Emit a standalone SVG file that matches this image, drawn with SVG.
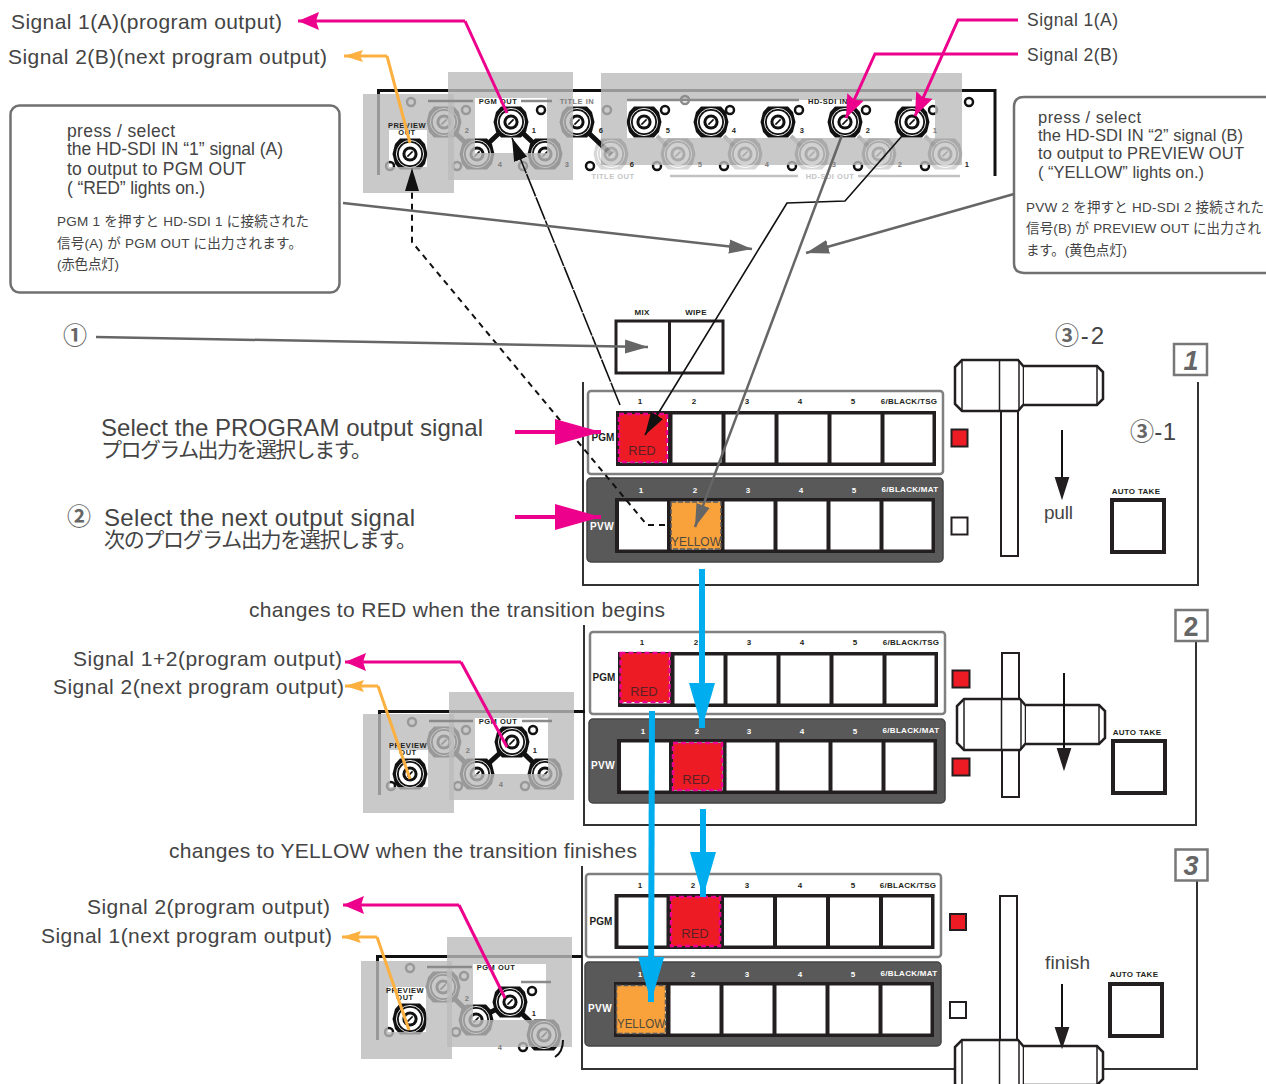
<svg xmlns="http://www.w3.org/2000/svg" width="1266" height="1084" viewBox="0 0 1266 1084">
<style>
text{font-family:"Liberation Sans","Noto Sans CJK JP",sans-serif;fill:#444}
.l{font-size:21px}
.m{font-size:17.500px}
.m2{font-size:16.500px}
.j{font-size:13.500px}
.jl{font-size:21px}
.b{font-weight:bold;font-size:8px;fill:#231f20;text-anchor:middle;letter-spacing:.3px}
.w{font-weight:bold;font-size:8px;fill:#fff;text-anchor:middle;letter-spacing:.3px}
.lb{font-weight:bold;font-size:10px;fill:#231f20;text-anchor:middle}
.lw{font-weight:bold;font-size:10px;fill:#fff;text-anchor:middle;letter-spacing:.4px}
.dn{font-weight:bold;font-size:7.500px;fill:#231f20;text-anchor:middle;letter-spacing:.5px}
.gn{font-weight:bold;font-size:7.500px;fill:#7c7c7c;text-anchor:middle;letter-spacing:.5px}
.ln{font-weight:bold;font-size:7.500px;fill:#c4c4c4;text-anchor:middle;letter-spacing:.5px}
.bt{font-size:13px;fill:#5a2026;text-anchor:middle}
.yt{font-size:13px;fill:#4f4a40}
.tag{font-weight:bold;font-size:27px;fill:#666;text-anchor:middle}
.circ{font-weight:bold;fill:#666}
.pgm{fill:#fff;stroke:#808080;stroke-width:2.500}
.pvw{fill:#595959;stroke:#444;stroke-width:1.500}
.red{fill:#ed1c24;stroke:#ec008c;stroke-width:2.500;stroke-dasharray:5 3}
.org{fill:#f9a13a;stroke:#5a5a5a;stroke-width:1.500;stroke-dasharray:5 2}
.ledr{fill:#ed1c24;stroke:#231f20;stroke-width:2}
.ledw{fill:#fff;stroke:#231f20;stroke-width:2}
.take{fill:#fff;stroke:#231f20;stroke-width:4}
.border{fill:none;stroke:#333;stroke-width:2}
.tagbox{fill:#fff;stroke:#777;stroke-width:2.500}
.callout{fill:#fff;stroke:#707070;stroke-width:2.500}
.frame{fill:none;stroke:#111;stroke-width:3}
.overlay{fill:#bbb;opacity:.8;fill-rule:evenodd}
.rule{stroke:#8a8a8a;stroke-width:2.500}
.rl{stroke:#c2c2c2;stroke-width:2.500}
.hk{fill:none;stroke:#111;stroke-width:2.500}
.link{stroke:#111;stroke-width:5}
.lk{stroke:#b5b5b5;stroke-width:4}
.mag{fill:none;stroke:#ec008c;stroke-width:3}
.ora{fill:none;stroke:#fbb040;stroke-width:3}
.bk{fill:none;stroke:#111;stroke-width:1.600}
.bk2{fill:none;stroke:#111;stroke-width:2}
.gy{fill:none;stroke:#666;stroke-width:2.500}
.blue{fill:none;stroke:#00aeef;stroke-width:6}
.pk{fill:none;stroke:#ec008c;stroke-width:4}
.hd{fill:#231f20;stroke:#231f20;stroke-width:2}
</style>
<defs>
<marker id="mPink" markerUnits="userSpaceOnUse" markerWidth="22" markerHeight="20" refX="21" refY="10" orient="auto"><path d="M0,1L21,10L0,19L3,10Z" fill="#ec008c"/></marker>
<marker id="mOra" markerUnits="userSpaceOnUse" markerWidth="20" markerHeight="14" refX="19" refY="7" orient="auto"><path d="M0,1L19,7L0,13L3,7Z" fill="#fbb040"/></marker>
<marker id="mPinkL" markerUnits="userSpaceOnUse" markerWidth="47" markerHeight="28" refX="46" refY="14" orient="auto"><path d="M0,1L46,14L0,27Z" fill="#ec008c"/></marker>
<marker id="mPinkS" markerUnits="userSpaceOnUse" markerWidth="24" markerHeight="20" refX="23" refY="10" orient="auto"><path d="M0,1L23,10L0,19L3,10Z" fill="#ec008c"/></marker>
<marker id="mBk" markerUnits="userSpaceOnUse" markerWidth="24" markerHeight="16" refX="23" refY="8" orient="auto"><path d="M0,1L23,8L0,15Z" fill="#111"/></marker>
<marker id="mGy" markerUnits="userSpaceOnUse" markerWidth="24" markerHeight="16" refX="23" refY="8" orient="auto"><path d="M0,1L23,8L0,15Z" fill="#666"/></marker>
<marker id="mBlue" markerUnits="userSpaceOnUse" markerWidth="46" markerHeight="28" refX="45" refY="14" orient="auto"><path d="M0,1L45,14L0,27Z" fill="#00aeef"/></marker>
<g id="bnc">
<path d="M-10,-15.500H10L15,-10L17.500,0L15,10L10,15.500H-10L-15,10L-17.500,0L-15,-10Z" fill="#111"/>
<circle r="13.600" fill="none" stroke="#fff" stroke-width=".9"/>
<circle r="11.200" fill="#fff"/>
<circle r="7.600" fill="#111"/>
<circle r="4.600" fill="#fff"/>
<path d="M-2.600,2.600L2.600,-2.600" stroke="#111" stroke-width="1.600"/>
</g>
<g id="row">
<rect width="320" height="55" fill="#231f20"/>
<rect x="4" y="3.500" width="48" height="48" fill="#fff"/>
<rect x="56.500" y="3.500" width="49" height="48" fill="#fff"/>
<rect x="109.500" y="3.500" width="49" height="48" fill="#fff"/>
<rect x="162.500" y="3.500" width="49" height="48" fill="#fff"/>
<rect x="215.500" y="3.500" width="49" height="48" fill="#fff"/>
<rect x="268.500" y="3.500" width="48" height="48" fill="#fff"/>
</g>
<g id="handle">
<path d="M7,0H63L69,7V44L63,51H7L0,44V7Z" fill="#fff" stroke="#231f20" stroke-width="2.500"/>
<path d="M69,6H142L148,12V39L142,45H69" fill="#fff" stroke="#231f20" stroke-width="2.500"/>
<path d="M7,0V51M44.500,0V51M64,0V51M142,6V45" fill="none" stroke="#231f20" stroke-width="1.500"/>
</g>
</defs>

<g id="switcher-1">
<path class="border" d="M583,382V585H1198V382"/>
<g id="mix-wipe"><rect x="616" y="321" width="107" height="52" fill="#fff" stroke="#231f20" stroke-width="3"/><path d="M669.500,321V373" stroke="#231f20" stroke-width="3"/>
<text class="b" x="642" y="315">MIX</text><text class="b" x="696" y="315">WIPE</text></g>
<rect class="pgm" x="588" y="391" width="355" height="83" rx="3"/>
<use href="#row" x="616" y="411"/>
<rect class="red" x="619" y="414" width="48" height="48"/>
<text class="bt" x="642" y="455">RED</text>
<text class="b" x="640" y="404">1</text><text class="b" x="694" y="404">2</text><text class="b" x="747" y="404">3</text><text class="b" x="800" y="404">4</text><text class="b" x="853" y="404">5</text><text class="b" x="909" y="404">6/BLACK/TSG</text>
<text class="lb" x="603" y="441">PGM</text>
<rect class="pvw" x="587" y="478" width="356" height="84" rx="4"/>
<use href="#row" x="615" y="498"/>
<rect class="org" x="671" y="502" width="50" height="47"/>
<text class="yt" x="671" y="546" textLength="50" lengthAdjust="spacingAndGlyphs">YELLOW</text>
<text class="w" x="641" y="493">1</text><text class="w" x="695" y="493">2</text><text class="w" x="748" y="493">3</text><text class="w" x="801" y="493">4</text><text class="w" x="854" y="493">5</text><text class="w" x="910" y="492">6/BLACK/MAT</text>
<text class="lw" x="602" y="530">PVW</text>
<rect class="ledr" x="951.500" y="429.500" width="16" height="17"/>
<rect class="ledw" x="951.500" y="517.500" width="16" height="17"/>
<g id="fader-1"><rect x="1001" y="411" width="17" height="145" fill="#fff" stroke="#231f20" stroke-width="2"/><use href="#handle" x="955" y="360"/></g>
<g id="auto-take-1"><text class="b" x="1136" y="494">AUTO TAKE</text><rect class="take" x="1112" y="500" width="52" height="52"/></g>
<text x="1044" y="519" font-size="19" textLength="29">pull</text>
<g id="tag-1"><rect class="tagbox" x="1174" y="344" width="33" height="31"/><text class="tag" x="1191" y="370" font-style="italic">1</text></g>
</g>

<g id="switcher-2">
<path class="border" d="M584,625V825H1196V641"/>
<rect class="pgm" x="590" y="632" width="355" height="82" rx="3"/>
<use href="#row" x="618" y="652"/>
<rect class="red" x="620.500" y="653" width="49" height="49"/>
<text class="bt" x="644" y="696">RED</text>
<text class="b" x="642" y="645">1</text><text class="b" x="696" y="645">2</text><text class="b" x="749" y="645">3</text><text class="b" x="802" y="645">4</text><text class="b" x="855" y="645">5</text><text class="b" x="911" y="645">6/BLACK/TSG</text>
<text class="lb" x="604" y="681">PGM</text>
<rect class="pvw" x="589" y="719" width="356" height="84" rx="4"/>
<use href="#row" x="617" y="739"/>
<rect class="red" x="673" y="743" width="49" height="47"/>
<text class="bt" x="696" y="784">RED</text>
<text class="w" x="643" y="734">1</text><text class="w" x="697" y="734">2</text><text class="w" x="749" y="734">3</text><text class="w" x="802" y="734">4</text><text class="w" x="855" y="734">5</text><text class="w" x="911" y="733">6/BLACK/MAT</text>
<text class="lw" x="603" y="769">PVW</text>
<rect class="ledr" x="952.500" y="670.500" width="17" height="17"/>
<rect class="ledr" x="952.500" y="758.500" width="17" height="17"/>
<g id="fader-2"><rect x="1002" y="653" width="17" height="144" fill="#fff" stroke="#231f20" stroke-width="2"/><use href="#handle" x="957" y="699"/></g>
<path class="bk2" d="M1064,673V750"/><path class="hd" d="M1058,749H1070L1064,768Z"/>
<g id="auto-take-2"><text class="b" x="1137" y="735">AUTO TAKE</text><rect class="take" x="1113" y="741" width="52" height="52"/></g>
<g id="tag-2"><rect class="tagbox" x="1175.500" y="610" width="32" height="31"/><text class="tag" x="1191" y="636">2</text></g>
</g>

<g id="switcher-3">
<path class="border" d="M582,866V1069H955M1103,1069H1197V881"/>
<rect class="pgm" x="586" y="874" width="355" height="83" rx="3"/>
<use href="#row" x="614.500" y="894"/>
<rect class="red" x="671" y="897" width="49" height="49"/>
<text class="bt" x="695" y="938">RED</text>
<text class="b" x="640" y="888">1</text><text class="b" x="693" y="888">2</text><text class="b" x="747" y="888">3</text><text class="b" x="800" y="888">4</text><text class="b" x="853" y="888">5</text><text class="b" x="908" y="888">6/BLACK/TSG</text>
<text class="lb" x="601" y="925">PGM</text>
<rect class="pvw" x="585" y="962" width="356" height="84" rx="4"/>
<use href="#row" x="614" y="982"/>
<rect class="org" x="616.500" y="985.500" width="49" height="48"/>
<text class="yt" x="617" y="1028" textLength="48" lengthAdjust="spacingAndGlyphs">YELLOW</text>
<text class="w" x="640" y="977">1</text><text class="w" x="693" y="977">2</text><text class="w" x="747" y="977">3</text><text class="w" x="800" y="977">4</text><text class="w" x="853" y="977">5</text><text class="w" x="909" y="976">6/BLACK/MAT</text>
<text class="lw" x="600" y="1012">PVW</text>
<rect class="ledr" x="950" y="914" width="16" height="16"/>
<rect class="ledw" x="950" y="1002" width="16" height="16"/>
<g id="fader-3"><rect x="1000" y="896" width="17" height="145" fill="#fff" stroke="#231f20" stroke-width="2"/><use href="#handle" x="955" y="1040"/></g>
<path class="bk2" d="M1062,984V1028"/><path class="hd" d="M1056,1028H1068L1062,1046Z"/>
<g id="auto-take-3"><text class="b" x="1134" y="977">AUTO TAKE</text><rect class="take" x="1110" y="984" width="52" height="52"/></g>
<text x="1045" y="969" font-size="19" textLength="45">finish</text>
<g id="tag-3"><rect class="tagbox" x="1175.500" y="849.500" width="32" height="31"/><text class="tag" x="1191" y="875" font-style="italic">3</text></g>
</g>

<g id="device-top">
<path class="frame" d="M378.500,175V90.500H995V176"/>
<circle class="hk" cx="969" cy="102" r="4"/>
<path class="link" d="M511,122L477,154M511,122L545,154M444,122L477,154M577,122L611,154"/>
<path class="lk" d="M657,136L667,146M724,136L734,146M791,136L801,146M858,136L868,146M925,136L935,146"/>
<use href="#bnc" x="444" y="122"/><use href="#bnc" x="511" y="122"/><use href="#bnc" x="577" y="122"/><use href="#bnc" x="644" y="122"/><use href="#bnc" x="711" y="122"/><use href="#bnc" x="778" y="122"/><use href="#bnc" x="845" y="122"/><use href="#bnc" x="912" y="122"/>
<use href="#bnc" x="410" y="154"/><use href="#bnc" x="477" y="154"/><use href="#bnc" x="545" y="154"/>
<circle class="hk" cx="411" cy="102" r="4"/><circle class="hk" cx="466" cy="110" r="4"/><circle class="hk" cx="390" cy="166" r="4"/><circle class="hk" cx="457" cy="166" r="4"/><circle class="hk" cx="523" cy="166" r="4"/>
<circle class="hk" cx="541" cy="110" r="4"/><circle class="hk" cx="607" cy="110" r="4"/><circle class="hk" cx="665" cy="110" r="4"/><circle class="hk" cx="730" cy="110" r="4"/><circle class="hk" cx="799" cy="110" r="4"/><circle class="hk" cx="866" cy="110" r="4"/><circle class="hk" cx="933" cy="110" r="4"/>
<circle class="hk" cx="590" cy="166" r="4"/><circle class="hk" cx="657" cy="166" r="4"/><circle class="hk" cx="724" cy="166" r="4"/><circle class="hk" cx="792" cy="166" r="4"/><circle class="hk" cx="858" cy="166" r="4"/><circle class="hk" cx="925" cy="166" r="4"/>
<path class="overlay" d="M363,94H454V193H363ZM389,130H427V167H389Z"/>
<path class="overlay" d="M448,72H573V180H448ZM475,98H547V153H475Z"/>
<path class="overlay" d="M601,73H962V165H601ZM627,100H935V138H627Z"/>
<circle cx="685" cy="100" r="4" fill="none" stroke="#8c8c8c" stroke-width="2.500"/>
<g opacity=".16"><use href="#bnc" x="611" y="154"/><use href="#bnc" x="678" y="154"/><use href="#bnc" x="745" y="154"/><use href="#bnc" x="812" y="154"/><use href="#bnc" x="879" y="154"/><use href="#bnc" x="945" y="154"/></g>
<path class="rule" d="M428,101H473M521,101H552M627,100H799M856,100H912"/>
<path class="rl" d="M670,176H798M858,176H960"/>
<text class="dn" x="407" y="128">PREVIEW</text><text class="dn" x="407" y="135">OUT</text>
<text class="dn" x="498" y="104">PGM OUT</text><text class="gn" x="577" y="104">TITLE IN</text><text class="dn" x="828" y="104">HD-SDI IN</text>
<text class="ln" x="613" y="179">TITLE OUT</text><text class="ln" x="830" y="179">HD-SDI OUT</text>
<text class="gn" x="467" y="133">2</text><text class="dn" x="534" y="133">1</text><text class="dn" x="601" y="133">6</text><text class="dn" x="668" y="133">5</text><text class="dn" x="734" y="133">4</text><text class="dn" x="802" y="133">3</text><text class="dn" x="868" y="133">2</text><text class="gn" x="935" y="133">1</text>
<text class="gn" x="500" y="167">4</text><text class="gn" x="567" y="167">3</text><text class="dn" x="632" y="167">6</text><text class="gn" x="700" y="167">5</text><text class="gn" x="767" y="167">4</text><text class="gn" x="834" y="167">3</text><text class="gn" x="900" y="167">2</text><text class="dn" x="967" y="167">1</text>
</g>

<g id="device-2">
<path class="frame" d="M379.500,795V711.500H585"/>
<path class="link" d="M512,742L477,774M512,742L545,774M444,742L477,774"/>
<use href="#bnc" x="444" y="742"/><use href="#bnc" x="512" y="742"/><use href="#bnc" x="410" y="774"/><use href="#bnc" x="477" y="774"/><use href="#bnc" x="545" y="774"/>
<circle class="hk" cx="412" cy="722" r="4"/><circle class="hk" cx="466" cy="730" r="4"/><circle class="hk" cx="533" cy="730" r="4"/><circle class="hk" cx="391" cy="786" r="4"/><circle class="hk" cx="458" cy="786" r="4"/><circle class="hk" cx="525" cy="786" r="4"/>
<path class="overlay" d="M363,714H454V813H363ZM390,750H428V787H390Z"/>
<path class="overlay" d="M449,692H574V800H449ZM475,718H548V774H475Z"/>
<path class="rule" d="M429,721H473M522,721H552"/>
<text class="dn" x="408" y="748">PREVIEW</text><text class="dn" x="408" y="755">OUT</text>
<text class="dn" x="498" y="724">PGM OUT</text>
<text class="gn" x="468" y="753">2</text><text class="dn" x="535" y="753">1</text><text class="gn" x="501" y="787">4</text>
</g>

<g id="device-3">
<path class="frame" d="M377.500,1040V956.500H582"/>
<path class="link" d="M510,1002L476,1020M510,1002L544,1035M443,987L476,1020"/>
<use href="#bnc" x="443" y="987"/><use href="#bnc" x="510" y="1002"/><use href="#bnc" x="410" y="1019"/><use href="#bnc" x="476" y="1020"/><use href="#bnc" x="544" y="1035"/>
<circle class="hk" cx="410" cy="968" r="4"/><circle class="hk" cx="464" cy="976" r="4"/><circle class="hk" cx="532" cy="991" r="4"/><circle class="hk" cx="389" cy="1032" r="4"/><circle class="hk" cx="456" cy="1032" r="4"/><circle class="hk" cx="523" cy="1047" r="4"/>
<path class="overlay" d="M361,961H452V1059H361ZM388,987H426V1032H388Z"/>
<path class="overlay" d="M447,937H572V1047H447ZM473,964H546V1020H473Z"/>
<path d="M563,1040Q563,1052 555,1057" fill="none" stroke="#111" stroke-width="2"/>
<path class="rule" d="M427,967H472M521,982H551"/>
<text class="dn" x="405" y="993">PREVIEW</text><text class="dn" x="405" y="1000">OUT</text>
<text class="dn" x="496" y="970">PGM OUT</text>
<text class="gn" x="467" y="1001">2</text><text class="dn" x="534" y="1016">1</text><text class="gn" x="500" y="1050">4</text>
</g>

<g id="callout-left">
<rect class="callout" x="10.500" y="105.500" width="329" height="187" rx="9"/>
<text class="m" x="67" y="137" textLength="108">press / select</text>
<text class="m" x="67" y="155" textLength="216">the HD-SDI IN “1” signal (A)</text>
<text class="m" x="67" y="175" textLength="179">to output to PGM OUT</text>
<text class="m" x="67" y="194" textLength="138">( “RED” lights on.)</text>
<text class="j" x="57" y="226" textLength="252">PGM 1 を押すと HD-SDI 1 に接続された</text>
<text class="j" x="57" y="248" textLength="245">信号(A) が PGM OUT に出力されます。</text>
<text class="j" x="57" y="269" textLength="62">(赤色点灯)</text>
</g>
<g id="callout-right">
<path class="callout" d="M1270,97H1024Q1014,97 1014,107V263Q1014,273 1024,273H1270"/>
<text class="m2" x="1038" y="123" textLength="103">press / select</text>
<text class="m2" x="1038" y="141" textLength="205">the HD-SDI IN “2” signal (B)</text>
<text class="m2" x="1038" y="159" textLength="206">to output to PREVIEW OUT</text>
<text class="m2" x="1038" y="178" textLength="166">( “YELLOW” lights on.)</text>
<text class="j" x="1026" y="212" textLength="238">PVW 2 を押すと HD-SDI 2 接続された</text>
<text class="j" x="1026" y="233" textLength="235">信号(B) が PREVIEW OUT に出力され</text>
<text class="j" x="1026" y="255" textLength="101">ます。(黄色点灯)</text>
</g>

<g id="connectors">
<path class="mag" d="M465,21H298" marker-end="url(#mPink)"/><path class="mag" d="M465,21L507,113"/>
<path class="ora" d="M387,56H344" marker-end="url(#mOra)"/><path class="ora" d="M387,56L410,143"/>
<path class="mag" d="M1018,20H958L915,116" marker-end="url(#mPinkS)"/>
<path class="mag" d="M1018,54H875L846,118" marker-end="url(#mPinkS)"/>
<path class="mag" d="M461,662H345" marker-end="url(#mPink)"/><path class="mag" d="M461,662L507,747"/>
<path class="ora" d="M378,686H345" marker-end="url(#mOra)"/><path class="ora" d="M378,686L410,779"/>
<path class="mag" d="M459,905H343" marker-end="url(#mPink)"/><path class="mag" d="M459,905L505,998"/>
<path class="ora" d="M377,937H342" marker-end="url(#mOra)"/><path class="ora" d="M377,937L409,1030"/>
<path class="bk" d="M902,136L845,201L787,203L645,435" marker-end="url(#mBk)"/>
<path class="gy" d="M842,135L695,527" marker-end="url(#mGy)"/>
<path class="bk" d="M620,405L512,138" stroke-dasharray="24 1" marker-end="url(#mBk)"/>
<path class="bk2" d="M665,525H647L412,242V168" stroke-dasharray="6 5" marker-end="url(#mBk)"/>
<path class="gy" d="M343,203L752,249" marker-end="url(#mGy)"/>
<path class="gy" d="M1014,194L806,253" marker-end="url(#mGy)"/>
<path class="gy" d="M96,337L648,347" marker-end="url(#mGy)"/>
<path class="bk2" d="M1062,430V480"/><path class="hd" d="M1056,478H1068L1062,497Z"/>
<path class="pk" d="M515,432H601" marker-end="url(#mPinkL)"/>
<path class="pk" d="M515,517H601" marker-end="url(#mPinkL)"/>
<path class="blue" d="M702,569V728" marker-end="url(#mBlue)"/>
<path class="blue" d="M703,809V897" marker-end="url(#mBlue)"/>
<path class="blue" d="M652,711L651,1002" marker-end="url(#mBlue)"/>
</g>

<g id="labels">
<text class="l" x="11" y="29" textLength="271">Signal 1(A)(program output)</text>
<text class="l" x="8" y="64" textLength="319">Signal 2(B)(next program output)</text>
<text class="m" x="1027" y="26" textLength="91">Signal 1(A)</text>
<text class="m" x="1027" y="61" textLength="91">Signal 2(B)</text>
<text class="circ" x="75" y="344" font-size="24" text-anchor="middle">①</text>
<text x="1055" y="344" font-size="24" textLength="49"><tspan class="circ">③</tspan>-2</text>
<text x="1130" y="440" font-size="24" textLength="46"><tspan class="circ">③</tspan>-1</text>
<text x="101" y="436" font-size="24" textLength="382">Select the PROGRAM output signal</text>
<text class="jl" x="101" y="457" textLength="271">プログラム出力を選択します。</text>
<text class="circ" x="79" y="525" font-size="24" text-anchor="middle">②</text>
<text x="104" y="526" font-size="24" textLength="311">Select the next output signal</text>
<text class="jl" x="104" y="547" textLength="313">次のプログラム出力を選択します。</text>
<text class="l" x="249" y="617" textLength="416">changes to RED when the transition begins</text>
<text class="l" x="73" y="666" textLength="269">Signal 1+2(program output)</text>
<text class="l" x="53" y="694" textLength="291">Signal 2(next program output)</text>
<text class="l" x="169" y="858" textLength="468">changes to YELLOW when the transition finishes</text>
<text class="l" x="87" y="914" textLength="243">Signal 2(program output)</text>
<text class="l" x="41" y="943" textLength="291">Signal 1(next program output)</text>
</g>
</svg>
